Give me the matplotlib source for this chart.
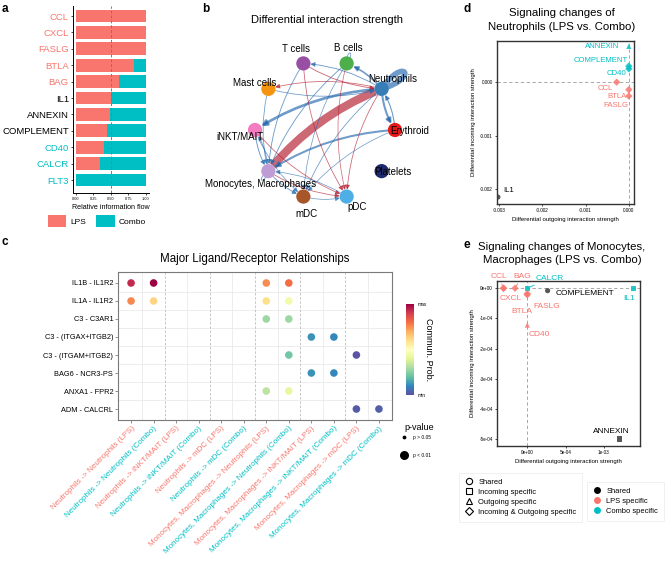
import numpy as np
import matplotlib
matplotlib.use("Agg")
import matplotlib.pyplot as plt
from matplotlib.patches import FancyArrowPatch, Patch, PathPatch, ArrowStyle
from matplotlib.path import Path
from matplotlib.lines import Line2D
from matplotlib.colors import Normalize
from matplotlib import colorbar as mcolorbar

plt.rcParams['font.family'] = ['Liberation Sans', 'DejaVu Sans']

# ---------------- data ----------------
# panel a
a_signals = ['CCL', 'CXCL', 'FASLG', 'BTLA', 'BAG', 'IL1', 'ANNEXIN', 'COMPLEMENT', 'CD40', 'CALCR', 'FLT3']
a_lps = [1.0, 1.0, 1.0, 0.83, 0.62, 0.50, 0.49, 0.45, 0.40, 0.35, 0.0]
a_combo = [0.0, 0.0, 0.0, 0.17, 0.38, 0.50, 0.51, 0.55, 0.60, 0.65, 1.0]
a_group = ['LPS', 'LPS', 'LPS', 'LPS', 'LPS', 'Shared', 'Shared', 'Shared', 'Combo', 'Combo', 'Combo']
a_ticks = [0.0, 0.25, 0.5, 0.75, 1.0]

# panel b
cells = ['Erythroid', 'Neutrophils', 'B cells', 'T cells', 'Mast cells', 'iNKT/MAIT',
         'Monocytes, Macrophages', 'mDC', 'pDC', 'Platelets']
cell_colors = ['#E41A1C', '#377EB8', '#4DAF4A', '#984EA3', '#F5950F', '#F37DC0',
               '#C09CD4', '#A65628', '#4EAFE6', '#1E2A6E']
# (source, target, differential strength: + increased (red), - decreased (blue))
edges = [
    ('Neutrophils', 'Monocytes, Macrophages', 1.00),
    ('Neutrophils', 'Neutrophils', -0.65),
    ('Neutrophils', 'iNKT/MAIT', -0.28),
    ('Erythroid', 'Monocytes, Macrophages', -0.20),
    ('Neutrophils', 'Erythroid', -0.20),
    ('Erythroid', 'Neutrophils', -0.08),
    ('Neutrophils', 'B cells', -0.15),
    ('Neutrophils', 'T cells', -0.05),
    ('T cells', 'Neutrophils', 0.05),
    ('Neutrophils', 'Mast cells', 0.04),
    ('Mast cells', 'Neutrophils', -0.04),
    ('B cells', 'B cells', -0.04),
    ('Monocytes, Macrophages', 'Monocytes, Macrophages', -0.05),
    ('T cells', 'Monocytes, Macrophages', -0.05),
    ('Mast cells', 'Monocytes, Macrophages', -0.04),
    ('iNKT/MAIT', 'Monocytes, Macrophages', -0.06),
    ('Monocytes, Macrophages', 'iNKT/MAIT', -0.05),
    ('B cells', 'Monocytes, Macrophages', -0.05),
    ('Monocytes, Macrophages', 'mDC', -0.05),
    ('Neutrophils', 'mDC', -0.04),
    ('iNKT/MAIT', 'mDC', -0.03),
    ('B cells', 'mDC', -0.03),
    ('T cells', 'pDC', 0.04),
    ('iNKT/MAIT', 'pDC', 0.04),
    ('Monocytes, Macrophages', 'pDC', 0.04),
    ('Neutrophils', 'pDC', 0.04),
    ('B cells', 'pDC', 0.03),
    ('mDC', 'pDC', -0.03),
    ('Erythroid', 'mDC', -0.03),
    ('pDC', 'Monocytes, Macrophages', -0.03),
]

# panel c
lr_pairs = ['IL1B - IL1R2', 'IL1A - IL1R2', 'C3 - C3AR1', 'C3 - (ITGAX+ITGB2)',
            'C3 - (ITGAM+ITGB2)', 'BAG6 - NCR3-PS', 'ANXA1 - FPR2', 'ADM - CALCRL']
pair_labels = ['Neutrophils -> Neutrophils (LPS)', 'Neutrophils -> Neutrophils (Combo)',
               'Neutrophils -> iNKT/MAIT (LPS)', 'Neutrophils -> iNKT/MAIT (Combo)',
               'Neutrophils -> mDC (LPS)', 'Neutrophils -> mDC (Combo)',
               'Monocytes, Macrophages -> Neutrophils (LPS)', 'Monocytes, Macrophages -> Neutrophils (Combo)',
               'Monocytes, Macrophages -> iNKT/MAIT (LPS)', 'Monocytes, Macrophages -> iNKT/MAIT (Combo)',
               'Monocytes, Macrophages -> mDC (LPS)', 'Monocytes, Macrophages -> mDC (Combo)']
pair_group = ['LPS', 'Combo'] * 6
dot_row = [1, 1, 1, 1, 2, 2, 2, 2, 3, 3, 4, 4, 5, 5, 6, 6, 7, 7, 8, 8]
dot_col = [1, 2, 7, 8, 1, 2, 7, 8, 7, 8, 9, 10, 8, 11, 9, 10, 7, 8, 11, 12]
dot_prob = [0.93, 1.0, 0.75, 0.80, 0.76, 0.62, 0.60, 0.45, 0.28, 0.28, 0.12, 0.10,
            0.22, 0.01, 0.12, 0.10, 0.33, 0.42, 0.02, 0.03]
group_breaks = [2.5, 4.5, 6.5, 8.5, 10.5]

# panel d
d_names = ['ANNEXIN', 'COMPLEMENT', 'CD40', 'CCL', 'BTLA', 'FASLG', 'IL1']
d_out = [0.0, 0.0, 0.0, -0.00028, 0.0, 0.0, -0.00303]
d_in = [0.00067, 0.00030, 0.00025, 0.0, -0.00014, -0.00026, -0.00215]
d_shape = ['Outgoing specific', 'Incoming & Outgoing specific', 'Incoming & Outgoing specific',
           'Incoming & Outgoing specific', 'Incoming & Outgoing specific',
           'Incoming & Outgoing specific', 'Shared']
d_group = ['Combo specific', 'Combo specific', 'Combo specific', 'LPS specific',
           'LPS specific', 'LPS specific', 'Shared']
d_xticks = [-0.003, -0.002, -0.001, 0.0]
d_yticks = [-0.002, -0.001, 0.0]

# panel e
e_names = ['CCL', 'BAG', 'CXCL', 'CALCR', 'BTLA', 'FASLG', 'CD40', 'COMPLEMENT', 'IL1', 'ANNEXIN']
e_out = [-3.1e-4, -1.6e-4, -3.1e-4, 0.0, 0.0, 0.0, 0.0, 2.65e-4, 1.39e-3, 1.2e-3]
e_in = [0.0, 0.0, 0.0, 0.0, -0.22e-4, -0.18e-4, -1.22e-4, -0.08e-4, 0.0, -5.0e-4]
e_shape = ['Incoming & Outgoing specific', 'Incoming & Outgoing specific', 'Incoming & Outgoing specific',
           'Incoming specific', 'Incoming & Outgoing specific', 'Incoming & Outgoing specific',
           'Outgoing specific', 'Shared', 'Incoming specific', 'Incoming specific']
e_group = ['LPS specific', 'LPS specific', 'LPS specific', 'Combo specific', 'LPS specific',
           'LPS specific', 'LPS specific', 'Shared', 'Combo specific', 'Shared']
e_xticks = [0.0, 5e-4, 1e-3]
e_xticklabels = ['0e+00', '5e-04', '1e-03']
e_yticks = [0.0, -1e-4, -2e-4, -3e-4, -4e-4, -5e-4]
e_yticklabels = ['0e+00', '-1e-04', '-2e-04', '-3e-04', '-4e-04', '-5e-04']

# ---------------- style ----------------
W, H = 667, 561
PX = 72.0 / 100.0  # points per pixel
LPS_C = '#F8766D'
COMBO_C = '#00BFC4'
grp_color = {'LPS': LPS_C, 'Combo': COMBO_C, 'Shared': 'black'}
sc_color = {'Shared': '#3a3a3a', 'LPS specific': LPS_C, 'Combo specific': COMBO_C}
lab_color = {'Shared': 'black', 'LPS specific': LPS_C, 'Combo specific': COMBO_C}
shape_marker = {'Shared': 'o', 'Incoming specific': 's', 'Outgoing specific': '^',
                'Incoming & Outgoing specific': 'D'}

fig = plt.figure(figsize=(W / 100, H / 100), dpi=100)


def px_axes(x0, y0, x1, y1, **kw):
    return fig.add_axes([x0 / W, 1 - y1 / H, (x1 - x0) / W, (y1 - y0) / H], **kw)


# overlay for free text
ov = px_axes(0, 0, W, H)
ov.set_xlim(0, W)
ov.set_ylim(H, 0)
ov.axis('off')
ov.patch.set_alpha(0)

for lab, (x, y) in {'a': (2, 9), 'b': (202, 9), 'c': (2, 242), 'd': (463, 9), 'e': (463, 245)}.items():
    ov.text(x, y, lab, fontsize=8.5, fontweight='bold', va='center', ha='left')

# ---------------- panel a ----------------
axa = px_axes(73, 6, 149, 193)
ya = np.arange(len(a_signals))
axa.barh(ya, a_lps, height=0.78, color=LPS_C)
axa.barh(ya, a_combo, left=a_lps, height=0.78, color=COMBO_C)
axa.axvline(0.5, color='#7a7a7a', lw=0.7, ls=(0, (3, 2)))
axa.set_xlim(-0.043, 1.047)
axa.set_ylim(10.79, -0.61)
axa.set_yticks(ya)
axa.set_yticklabels(a_signals, fontsize=6.8)
for t, g in zip(axa.get_yticklabels(), a_group):
    t.set_color(grp_color[g])
axa.set_xticks(a_ticks)
axa.set_xticklabels(['%.2f' % v for v in a_ticks], fontsize=2.8)
axa.tick_params(axis='x', length=1.5, width=0.5, pad=1.5)
axa.tick_params(axis='y', length=1.5, width=0.5, pad=1.5)
for s in ['top', 'right']:
    axa.spines[s].set_visible(False)
for s in ['left', 'bottom']:
    axa.spines[s].set_linewidth(0.7)
axa.set_xlabel('Relative information flow', fontsize=5.1, labelpad=2)
fig.legend(handles=[Patch(fc=LPS_C), Patch(fc=COMBO_C)], labels=['LPS', 'Combo'],
           loc='center', bbox_to_anchor=(97 / W, 1 - 221 / H), ncol=2, frameon=False,
           handlelength=2.2, handleheight=1.9, fontsize=6, columnspacing=1.2, handletextpad=0.5)

# ---------------- panel b ----------------
axb = px_axes(160, 0, 430, 240)
axb.set_xlim(160, 430)
axb.set_ylim(240, 0)
axb.axis('off')
cx, cy, R = 325, 130, 70
ang = np.deg2rad(36 * np.arange(len(cells)))
pos = {c: np.array([cx + R * np.cos(a), cy - R * np.sin(a)]) for c, a in zip(cells, ang)}
ang_of = {c: a for c, a in zip(cells, ang)}
RED, BLUE = '#B2182B', '#2166AC'
for s, t, w in edges:
    col = RED if w > 0 else BLUE
    lw = 0.35 + abs(w) * 5.6
    if s == t:
        p = pos[s]
        a = ang_of[s] + (0 if s != 'Monocytes, Macrophages' else 0.3)
        size = 14 + abs(w) * 40
        sp = 0.35
        d1 = np.array([np.cos(a + sp), -np.sin(a + sp)])
        d2 = np.array([np.cos(a - sp), -np.sin(a - sp)])
        path = Path([p, p + d1 * size, p + d2 * size, p],
                    [Path.MOVETO, Path.CURVE4, Path.CURVE4, Path.CURVE4])
        axb.add_patch(PathPatch(path, fill=False, lw=lw, ec=col, alpha=0.65, zorder=1))
    else:
        if lw > 2.5:
            style = ArrowStyle('-')
        else:
            style = ArrowStyle('-|>', head_length=0.7, head_width=0.35)
        arr = FancyArrowPatch(pos[s], pos[t], connectionstyle='arc3,rad=0.13',
                              arrowstyle=style, mutation_scale=3.5 + lw * 0.6, lw=lw,
                              color=col, alpha=0.65, shrinkA=5, shrinkB=5, zorder=1,
                              capstyle='butt')
        axb.add_patch(arr)
for c, col in zip(cells, cell_colors):
    axb.scatter(*pos[c], s=105, color=col, zorder=3, edgecolors='none')
label_off = {'Erythroid': (-5, 1, 'left'), 'Platelets': (-7, 1, 'left'),
             'Neutrophils': (11, -10, 'center'), 'B cells': (2, -15, 'center'),
             'T cells': (-7, -14, 'center'), 'Mast cells': (-14, -6, 'center'),
             'iNKT/MAIT': (-15, 7, 'center'), 'Monocytes, Macrophages': (-8, 13, 'center'),
             'mDC': (3, 17, 'center'), 'pDC': (10, 10, 'center')}
for c in cells:
    dx, dy, ha = label_off[c]
    axb.text(pos[c][0] + dx, pos[c][1] + dy, c, fontsize=7, ha=ha, va='center', zorder=4)
axb.text(327, 20, 'Differential interaction strength', fontsize=8, ha='center', va='center')

# ---------------- panel c ----------------
axc = px_axes(118, 272, 392, 420)
ncol = len(pair_labels)
nrow = len(lr_pairs)
for v in np.arange(1.5, ncol, 1.0):
    if v not in group_breaks:
        axc.axvline(v, color='#E6E6E6', lw=0.5, zorder=0)
for v in np.arange(1.5, nrow, 1.0):
    axc.axhline(v, color='#E6E6E6', lw=0.5, zorder=0)
for v in group_breaks:
    axc.axvline(v, color='#BDBDBD', lw=0.6, ls=(0, (3, 2)), zorder=0)
axc.scatter(dot_col, dot_row, c=dot_prob, cmap='Spectral_r', vmin=0, vmax=1, s=30,
            edgecolors='none', zorder=3)
axc.set_xlim(0.42, ncol + 0.58)
axc.set_ylim(nrow + 0.61, 0.39)
axc.set_yticks(np.arange(1, nrow + 1))
axc.set_yticklabels(lr_pairs, fontsize=5.3)
axc.set_xticks(np.arange(1, ncol + 1))
axc.set_xticklabels(pair_labels, fontsize=5.8, rotation=45, ha='right', rotation_mode='anchor')
for t, g in zip(axc.get_xticklabels(), pair_group):
    t.set_color(grp_color[g])
axc.tick_params(length=2, width=0.5, color='#666666', pad=1.5)
for s in axc.spines.values():
    s.set_color('#7a7a7a')
    s.set_linewidth(0.8)
ov.text(255, 259, 'Major Ligand/Receptor Relationships', fontsize=8.3, ha='center', va='center')
cax = px_axes(406, 304, 414, 395)
cb = mcolorbar.ColorbarBase(cax, cmap=plt.get_cmap('Spectral_r'), norm=Normalize(0, 1))
cb.set_ticks([])
cb.outline.set_visible(False)
ov.text(418, 304, 'max', fontsize=3.5, va='center', ha='left')
ov.text(418, 395, 'min', fontsize=3.5, va='center', ha='left')
ov.text(429, 350, 'Commun. Prob.', fontsize=6.5, rotation=-90, va='center', ha='center')
ov.text(404, 427, 'p-value', fontsize=6.5, ha='left', va='center')
ov.scatter([404], [437], s=3, color='black')
ov.text(413, 437, 'p > 0.05', fontsize=3.5, ha='left', va='center')
ov.scatter([404], [455], s=30, color='black')
ov.text(413, 455, 'p < 0.01', fontsize=3.5, ha='left', va='center')


# ---------------- panels d, e ----------------
def scatter_panel(ax, xs, ys, shapes, groups, ms):
    for x, y, sh, g in zip(xs, ys, shapes, groups):
        ax.scatter([x], [y], marker=shape_marker[sh], s=ms, color=sc_color[g],
                   alpha=0.85, edgecolors='none', zorder=3)
    ax.axhline(0, color='#9a9a9a', lw=0.6, ls=(0, (4, 3)), zorder=1)
    ax.axvline(0, color='#9a9a9a', lw=0.6, ls=(0, (4, 3)), zorder=1)
    for s in ax.spines.values():
        s.set_linewidth(1.0)
        s.set_color('#333333')
    ax.tick_params(length=1.5, width=0.5, labelsize=3.3, pad=1.5)


axd = px_axes(497, 41, 634, 204)
scatter_panel(axd, d_out, d_in, d_shape, d_group, 14)
axd.set_xlim(-0.00305, 0.00012)
axd.set_ylim(-0.00228, 0.00077)
axd.set_xticks(d_xticks)
axd.set_xticklabels(['%.3f' % v for v in d_xticks])
axd.set_yticks(d_yticks)
axd.set_yticklabels(['%.3f' % v for v in d_yticks])
axd.set_xlabel('Differential outgoing interaction strength', fontsize=4.3, labelpad=3)
axd.set_ylabel('Differential incoming interaction strength', fontsize=4.3, labelpad=3)
d_lab = {'ANNEXIN': (-9, 0, 'right'), 'COMPLEMENT': (-1, -6, 'right'), 'CD40': (-2, 5, 'right'),
         'CCL': (-4, 6, 'right'), 'BTLA': (-2, 7, 'right'), 'FASLG': (0, 9, 'right'),
         'IL1': (5, -7, 'left')}
for n, x, y, g in zip(d_names, d_out, d_in, d_group):
    dx, dy, ha = d_lab[n]
    axd.annotate(n, (x, y), xytext=(dx * PX, -dy * PX), textcoords='offset points',
                 fontsize=5.6, color=lab_color[g], ha=ha, va='center')
ov.text(562, 13, 'Signaling changes of', fontsize=8.2, ha='center', va='center')
ov.text(562, 27, 'Neutrophils (LPS vs. Combo)', fontsize=8.2, ha='center', va='center')

axe = px_axes(497, 281, 640, 446)
scatter_panel(axe, e_out, e_in, e_shape, e_group, 14)
axe.set_xlim(-3.95e-4, 1.47e-3)
axe.set_ylim(-5.23e-4, 0.24e-4)
axe.set_xticks(e_xticks)
axe.set_xticklabels(e_xticklabels)
axe.set_yticks(e_yticks)
axe.set_yticklabels(e_yticklabels)
axe.set_xlabel('Differential outgoing interaction strength', fontsize=4.3, labelpad=3)
axe.set_ylabel('Differential incoming interaction strength', fontsize=4.3, labelpad=3)
e_lab = {'CCL': (-5, -12, 'center', True), 'BAG': (7, -12, 'center', True),
         'CALCR': (8, -10, 'left', True), 'CXCL': (7, 10, 'center', False),
         'BTLA': (-5, 17, 'center', False), 'FASLG': (6, 13, 'left', False),
         'CD40': (1, 9, 'left', False), 'COMPLEMENT': (8, 3, 'left', False),
         'IL1': (-5, 10, 'center', False), 'ANNEXIN': (-8, -8, 'center', False)}
for n, x, y, g in zip(e_names, e_out, e_in, e_group):
    dx, dy, ha, seg = e_lab[n]
    ap = dict(arrowstyle='-', color=lab_color[g], lw=0.6, shrinkA=1, shrinkB=2) if seg else None
    axe.annotate(n, (x, y), xytext=(dx * PX, -dy * PX), textcoords='offset points',
                 fontsize=6, color=lab_color[g], ha=ha, va='center', arrowprops=ap)
ov.text(562, 247, 'Signaling changes of Monocytes,', fontsize=8.2, ha='center', va='center')
ov.text(562, 260, 'Macrophages (LPS vs. Combo)', fontsize=8.2, ha='center', va='center')

shape_handles = [Line2D([], [], ls='none', marker=shape_marker[k], mfc='none', mec='black',
                        mew=0.8, ms=4.5) for k in shape_marker]
leg1 = fig.legend(shape_handles, list(shape_marker.keys()), loc='upper left',
                  bbox_to_anchor=(455 / W, 1 - 469 / H), fontsize=5.4, frameon=True,
                  fancybox=False, edgecolor='#EAEAEA', labelspacing=0.35, handletextpad=0.6,
                  borderpad=0.8, handlelength=1.2)
leg1.get_frame().set_linewidth(0.6)
color_handles = [Line2D([], [], ls='none', marker='o', mfc=c, mec='none', ms=5)
                 for c in ['black', LPS_C, COMBO_C]]
leg2 = fig.legend(color_handles, ['Shared', 'LPS specific', 'Combo specific'], loc='upper left',
                  bbox_to_anchor=(583 / W, 1 - 478 / H), fontsize=5.4, frameon=True,
                  fancybox=False, edgecolor='#EAEAEA', labelspacing=0.35, handletextpad=0.6,
                  borderpad=0.8, handlelength=1.2)
leg2.get_frame().set_linewidth(0.6)

fig.savefig('out.png', dpi=100)
